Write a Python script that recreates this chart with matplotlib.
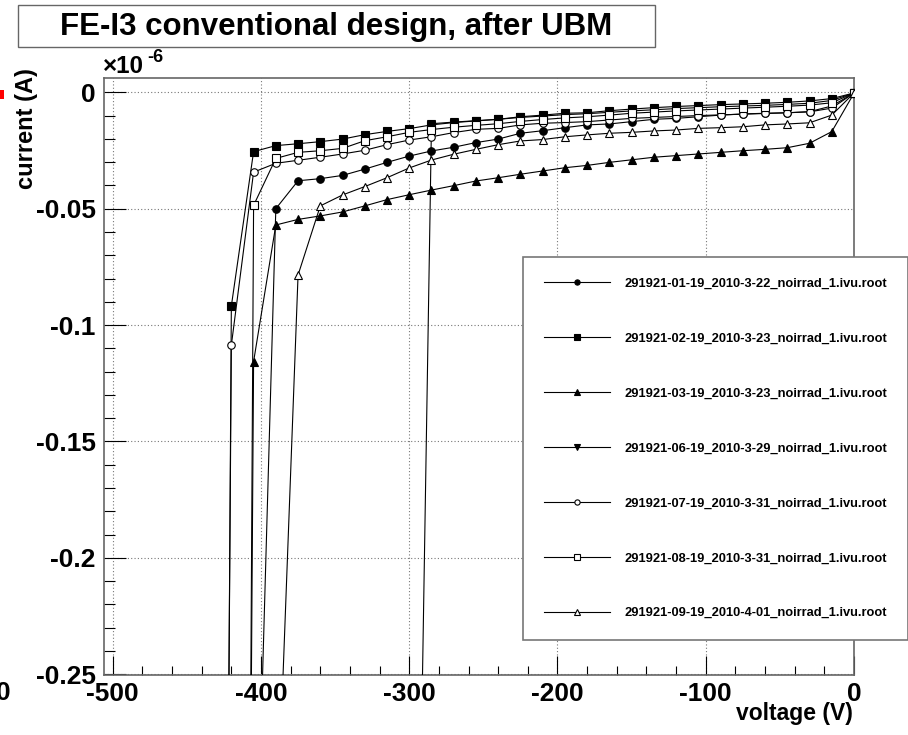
import matplotlib
matplotlib.use('Agg')
import matplotlib.pyplot as plt
from matplotlib.patches import Rectangle
from matplotlib.ticker import MultipleLocator, FixedLocator, FixedFormatter

plt.rcParams['font.family'] = ['Liberation Sans', 'DejaVu Sans']
plt.rcParams['font.weight'] = 'bold'
plt.rcParams['axes.unicode_minus'] = False

# ---------------- data (current in units of 1e-6 A) ----------------
voltage = [0, -15, -30, -45, -60, -75, -90, -105, -120, -135, -150, -165, -180,
           -195, -210, -225, -240, -255, -270, -285, -300, -315, -330, -345,
           -360, -375, -390, -405, -420, -435]

i_01 = [-0.0003, -0.0059, -0.0083, -0.0088, -0.0090, -0.0093, -0.0098, -0.0105,
        -0.0112, -0.0116, -0.0126, -0.0136, -0.0140, -0.0152, -0.0165, -0.0176,
        -0.0201, -0.0216, -0.0236, -0.0252, -0.0274, -0.0301, -0.0330, -0.0357,
        -0.0371, -0.0380, -0.0500, -0.386]
i_02 = [-0.0003, -0.0027, -0.0037, -0.0043, -0.0047, -0.0050, -0.0053, -0.0057,
        -0.0061, -0.0066, -0.0072, -0.0079, -0.0088, -0.0090, -0.0098, -0.0105,
        -0.0116, -0.0123, -0.0130, -0.0140, -0.0156, -0.0168, -0.0182, -0.0201,
        -0.0212, -0.0221, -0.0229, -0.0255, -0.0918, -1.57]
i_03 = [-0.0004, -0.0169, -0.0219, -0.0238, -0.0245, -0.0251, -0.0258, -0.0265,
        -0.0272, -0.0279, -0.0290, -0.0301, -0.0314, -0.0324, -0.0338, -0.0352,
        -0.0367, -0.0381, -0.0401, -0.0420, -0.0440, -0.0461, -0.0488, -0.0514,
        -0.0531, -0.0546, -0.0570, -0.1157, -1.5]
i_06 = [-0.0003, -0.0035, -0.0047, -0.0052, -0.0056, -0.0059, -0.0062, -0.0066,
        -0.0070, -0.0075, -0.0080, -0.0086, -0.0092, -0.0096, -0.0102, -0.0108,
        -0.0116, -0.0122, -0.0128, -0.0135, -0.60]
i_07 = [-0.0003, -0.0068, -0.0084, -0.0088, -0.0091, -0.0094, -0.0097, -0.0100,
        -0.0104, -0.0108, -0.0112, -0.0119, -0.0126, -0.0130, -0.0133, -0.0140,
        -0.0155, -0.0159, -0.0173, -0.0191, -0.0205, -0.0225, -0.0249, -0.0265,
        -0.0279, -0.0292, -0.0305, -0.0343, -0.1086, -1.43]
i_08 = [-0.0003, -0.0045, -0.0055, -0.0060, -0.0064, -0.0068, -0.0072, -0.0076,
        -0.0080, -0.0085, -0.0090, -0.0098, -0.0105, -0.0110, -0.0117, -0.0125,
        -0.0135, -0.0142, -0.0150, -0.0160, -0.0172, -0.0191, -0.0208, -0.0241,
        -0.0251, -0.0258, -0.0284, -0.0486, -1.7]
i_09 = [-0.0003, -0.0098, -0.0131, -0.0136, -0.0140, -0.0148, -0.0152, -0.0155,
        -0.0162, -0.0166, -0.0172, -0.0176, -0.0183, -0.0191, -0.0203, -0.0209,
        -0.0225, -0.0245, -0.0266, -0.0291, -0.0325, -0.0367, -0.0405, -0.0441,
        -0.0488, -0.0785, -0.333]

labels = ['291921-01-19_2010-3-22_noirrad_1.ivu.root',
          '291921-02-19_2010-3-23_noirrad_1.ivu.root',
          '291921-03-19_2010-3-23_noirrad_1.ivu.root',
          '291921-06-19_2010-3-29_noirrad_1.ivu.root',
          '291921-07-19_2010-3-31_noirrad_1.ivu.root',
          '291921-08-19_2010-3-31_noirrad_1.ivu.root',
          '291921-09-19_2010-4-01_noirrad_1.ivu.root']

xticks = [-500, -400, -300, -200, -100, 0]
xtick_labels = ['-500', '-400', '-300', '-200', '-100', '0']
yticks = [0, -0.05, -0.1, -0.15, -0.2, -0.25]
ytick_labels = ['0', '-0.05', '-0.1', '-0.15', '-0.2', '-0.25']

series = [i_01, i_02, i_03, i_06, i_07, i_08, i_09]
markers = ['o', 's', '^', 'v', 'o', 's', '^']
filled = [True, True, True, True, False, False, False]

# ---------------- figure ----------------
W, H = 908, 735
fig = plt.figure(figsize=(W / 100, H / 100), dpi=100)


def fx(px):
    return px / W


def fy(py):
    return 1 - py / H


ax = fig.add_axes([fx(104), fy(675), fx(854) - fx(104), fy(78) - fy(675)])

handles = []
for vals, mk, fl, lab in zip(series, markers, filled, labels):
    ms = 5.4 if mk in ('o', 's') else 6.0
    h, = ax.plot(voltage[:len(vals)], vals, color='black', lw=0.8,
                 marker=mk, ms=ms, mew=0.8, mec='black',
                 mfc='black' if fl else 'white', label=lab, zorder=3)
    handles.append(h)

ax.set_xlim(-505.9, 0)
ax.set_ylim(-0.2503, 0.00614)

ax.xaxis.set_major_locator(FixedLocator(xticks))
ax.xaxis.set_major_formatter(FixedFormatter(xtick_labels))
ax.xaxis.set_minor_locator(MultipleLocator(20))
ax.yaxis.set_major_locator(FixedLocator(yticks))
ax.yaxis.set_major_formatter(FixedFormatter(ytick_labels))
ax.yaxis.set_minor_locator(MultipleLocator(0.01))

ax.tick_params(axis='both', which='both', direction='in', colors='black',
               labelsize=19, top=False, right=False, width=0.8)
ax.tick_params(axis='x', which='major', length=13.5, pad=5)
ax.tick_params(axis='x', which='minor', length=6.5)
ax.tick_params(axis='y', which='major', length=16, pad=6)
ax.tick_params(axis='y', which='minor', length=8)
for lab in ax.get_xticklabels() + ax.get_yticklabels():
    lab.set_fontweight('bold')

ax.grid(True, which='major', color='#777777', linestyle=(0, (1, 2)), lw=0.8, zorder=1)
ax.set_axisbelow(True)
for sp in ax.spines.values():
    sp.set_color('#666666')
    sp.set_linewidth(1.2)

leg = ax.legend(handles=handles, labels=labels, loc='upper left',
                bbox_to_anchor=(fx(523), fy(257)), bbox_transform=fig.transFigure,
                numpoints=1, markerscale=0.7, handlelength=5.1,
                handletextpad=1.16, labelspacing=3.32, borderpad=1.6,
                borderaxespad=0, fancybox=False, framealpha=1,
                edgecolor='#777777', prop={'weight': 'bold', 'size': 9.3})
leg.get_frame().set_linewidth(1.2)
leg.set_zorder(5)

# title box
fig.patches.append(Rectangle((fx(18), fy(47)), fx(655) - fx(18), fy(5) - fy(47),
                             transform=fig.transFigure, facecolor='white',
                             edgecolor='#666666', lw=1.0))
fig.text(fx(336), fy(27), 'FE-I3 conventional design, after UBM', ha='center',
         va='center', fontsize=22.5, fontweight='bold')

# exponent
fig.text(fx(103), fy(73), '\u00d710', ha='left', va='baseline', fontsize=17.5,
         fontweight='bold')
fig.text(fx(147), fy(62), '-6', ha='left', va='baseline', fontsize=13,
         fontweight='bold')

# axis titles
fig.text(fx(853), fy(720), 'voltage (V)', ha='right', va='baseline',
         fontsize=16.5, fontweight='bold')
fig.text(fx(26), fy(68), 'current (A)', ha='center', va='top', rotation=90,
         fontsize=17, fontweight='bold')

# remnants at the left edge
fig.patches.append(Rectangle((0, fy(99)), fx(4), fy(90) - fy(99),
                             transform=fig.transFigure, facecolor='#ff0000',
                             edgecolor='none'))
fig.text(fx(11), fy(700), '0', ha='right', va='baseline', fontsize=19,
         fontweight='bold')

fig.savefig('out.png', dpi=100)
